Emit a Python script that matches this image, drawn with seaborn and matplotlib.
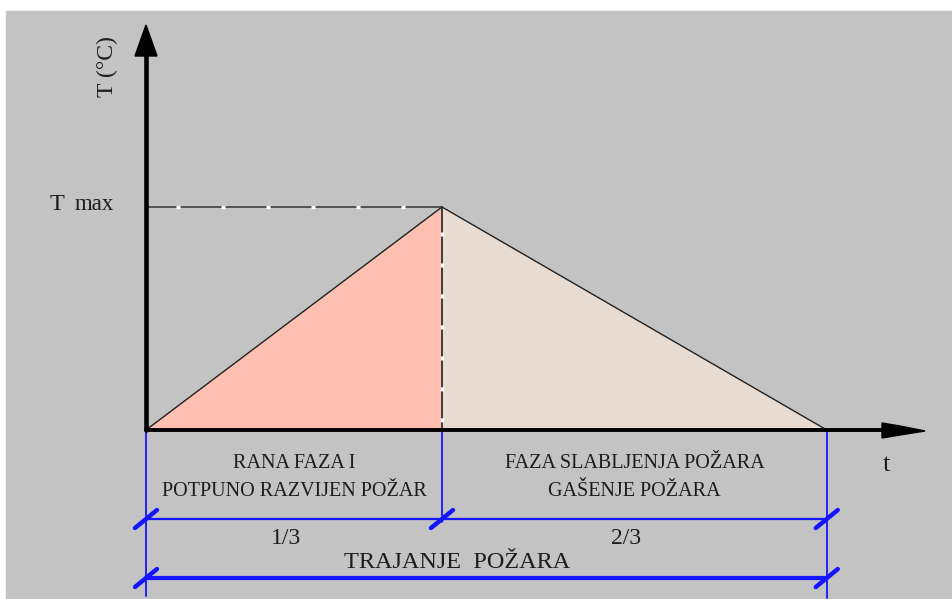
import numpy as np
import pandas as pd
import matplotlib
matplotlib.use("Agg")
import matplotlib.pyplot as plt
import seaborn as sns
from matplotlib.patches import Rectangle, Polygon

# fire curve: start, peak, end (drawing units) and relative temperature
t_phase = [0.0, 1.0, 2.3]
temp = [0.0, 1.0, 0.0]
phase_top = ["RANA FAZA I", "FAZA SLABLJENJA POŽARA"]
phase_bottom = ["POTPUNO RAZVIJEN POŽAR", "GAŠENJE POŽARA"]
fractions = ["1/3", "2/3"]
total_label = "TRAJANJE  POŽARA"

sns.set_theme(style="white")
plt.rcParams['font.family'] = ['Liberation Serif', 'DejaVu Serif']
plt.rcParams['lines.scale_dashes'] = False

fig = plt.figure(figsize=(9.53, 5.99), dpi=100)
ax = fig.add_axes([0, 0, 1, 1])

# pixel helpers for layout items
PX, PY = 296.0, 223.0
X0, Y0 = 146.0, 430.0
def X(px):
    return (px - X0) / PX
def Y(py):
    return (Y0 - py) / PY

ax.set_xlim(X(0), X(953))
ax.set_ylim(Y(599), Y(0))
ax.axis('off')

ax.add_patch(Rectangle((X(6), Y(599)), X(953) - X(6), Y(11) - Y(599),
                       color='#c3c3c3', zorder=0))

# phase fills
ax.fill_between(t_phase[:2], temp[:2], color='#ffc0b1', zorder=1, lw=0)
ax.fill_between(t_phase[1:], temp[1:], color='#e8dbd2', zorder=1, lw=0)

df = pd.DataFrame({'t': t_phase, 'T': temp})
sns.lineplot(data=df, x='t', y='T', color='#222222', lw=1, sort=False,
             ax=ax, legend=False, zorder=3)

tp = t_phase[1]
tmax = max(temp)
# Tmax guide lines (black with white dots)
ax.plot([0, tp], [tmax, tmax], color='#333333', lw=1.1, zorder=3)
ax.plot([0, tp], [tmax, tmax], color='white', lw=2.3,
        linestyle=(10.8, (2.9, 29.5)), zorder=4)
ax.plot([tp, tp], [tmax, 0], color='#333333', lw=1.3, zorder=3)
ax.plot([tp, tp], [tmax, 0], color='white', lw=2.3,
        linestyle=(4.3, (2.9, 19.4)), zorder=4)

# axes with arrows
ax.plot([0, 0], [0, Y(52)], color='black', lw=3.3, zorder=6)
ax.add_patch(Polygon([(X(135), Y(56)), (X(157), Y(56)), (X(146), Y(25))],
                     color='black', zorder=6))
ax.plot([0, X(890)], [0, 0], color='black', lw=2.8, zorder=6)
ax.add_patch(Polygon([(X(882), Y(423)), (X(900), Y(426)), (X(925), Y(431)),
                      (X(900), Y(435)), (X(882), Y(438))],
                     color='black', zorder=6))

# dimension lines
blue = '#1414ff'
ax.plot([0, 0], [0, Y(596)], color=blue, lw=1.3, zorder=2)
ax.plot([tp, tp], [0, Y(522)], color=blue, lw=1.3, zorder=2)
ax.plot([t_phase[2], t_phase[2]], [0, Y(598)], color=blue, lw=1.3, zorder=2)
ax.plot([0, t_phase[2]], [Y(519), Y(519)], color=blue, lw=1.6, zorder=2)
ax.plot([0, t_phase[2]], [Y(578), Y(578)], color=blue, lw=3.0, zorder=2)

def slash(x, y):
    ax.plot([x - 11 / PX, x + 11 / PX], [y - 9 / PY, y + 9 / PY],
            color=blue, lw=3.2, solid_capstyle='round', zorder=5)

for xv in t_phase:
    slash(xv, Y(519))
slash(0, Y(578))
slash(t_phase[2], Y(578))

# texts
tc = '#1c1c1c'
bounds = list(zip(t_phase[:-1], t_phase[1:]))
for (a, b), top, bot in zip(bounds, phase_top, phase_bottom):
    xm = (a + b) / 2
    ax.text(xm, Y(464), top, ha='center', va='center', fontsize=14.5, color=tc)
    ax.text(xm, Y(492), bot, ha='center', va='center', fontsize=14.5, color=tc)
for (a, b), fr in zip(bounds, fractions):
    ax.text((a + b) / 2 - 8 / PX, Y(539), fr, ha='center', va='center',
            fontsize=17, color=tc)
ax.text(X(457), Y(563), total_label, ha='center', va='center',
        fontsize=17.5, color=tc)
ax.text(X(886), Y(465), "t", ha='center', va='center', fontsize=19, color=tc)
ax.text(X(107), Y(67), "T (°C)", ha='center', va='center', rotation=90,
        fontsize=17, color=tc)
ax.text(X(50), Y(210), "T", ha='left', va='baseline', fontsize=17.5, color=tc)
ax.text(X(75), Y(210), "max", ha='left', va='baseline', fontsize=16.5, color=tc)

fig.savefig('out.png', dpi=100)
